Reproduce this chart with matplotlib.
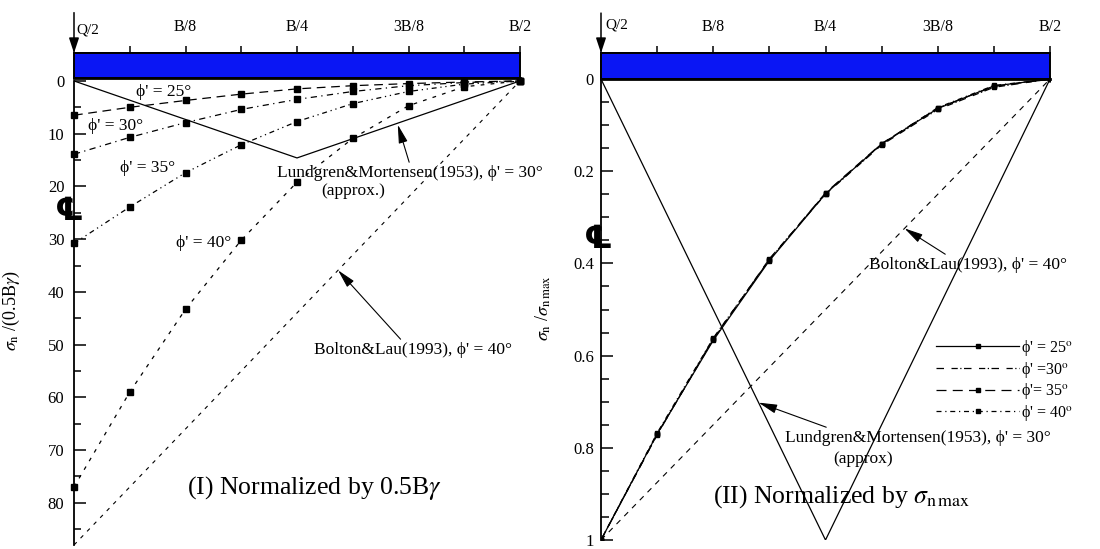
import matplotlib
matplotlib.use("Agg")
import matplotlib.pyplot as plt
from matplotlib.patches import Rectangle
from matplotlib.ticker import FixedLocator, MultipleLocator, FormatStrFormatter

plt.rcParams['font.family'] = ['Liberation Serif', 'DejaVu Serif']
plt.rcParams['mathtext.fontset'] = 'stix'

W, H = 1100, 549

# distance from the footing centre, as a fraction of B
x_dist = [0.0, 0.0625, 0.125, 0.1875, 0.25, 0.3125, 0.375, 0.4375, 0.5]

# (I) sigma_n / (0.5 B gamma)
sig_25 = [6.5, 5.0, 3.7, 2.5, 1.5, 0.9, 0.5, 0.2, 0.0]
sig_30 = [13.9, 10.7, 7.9, 5.4, 3.5, 2.0, 0.9, 0.3, 0.0]
sig_35 = [30.8, 23.9, 17.4, 12.1, 7.7, 4.3, 2.0, 0.6, 0.0]
sig_40 = [77.0, 59.0, 43.3, 30.2, 19.2, 10.9, 4.7, 1.1, 0.0]

# (II) sigma_n / sigma_n max
norm_25 = [1.0, 0.770, 0.567, 0.394, 0.249, 0.141, 0.064, 0.015, 0.0]
norm_30 = [1.0, 0.771, 0.565, 0.390, 0.250, 0.143, 0.066, 0.018, 0.0]
norm_35 = [1.0, 0.772, 0.563, 0.392, 0.247, 0.140, 0.063, 0.016, 0.0]
norm_40 = [1.0, 0.768, 0.562, 0.392, 0.248, 0.141, 0.062, 0.014, 0.0]

# Lundgren & Mortensen (1953) and Bolton & Lau (1993)
lund_x = [0.0, 0.25, 0.5]
lund_I = [0.0, 14.6, 0.0]
lund_II = [0.0, 1.0, 0.0]
bolton_x = [0.0, 0.5]
bolton_I = [88.0, 0.0]
bolton_II = [1.0, 0.0]

phi_names = ["ϕ' = 25°", "ϕ' = 30°", "ϕ' = 35°", "ϕ' = 40°"]
legend_names = ["ϕ' = 25$^{\\rm o}$", "ϕ' =30$^{\\rm o}$", "ϕ'= 35$^{\\rm o}$", "ϕ' = 40$^{\\rm o}$"]
top_ticks = [0, 0.125, 0.25, 0.375, 0.5]
top_labels = ["", "B/8", "B/4", "3B/8", "B/2"]

BLUE = '#0a16f4'


def fp(x, y):
    # pixel position -> figure fraction
    return x / W, 1 - y / H


def setup(ax, ytop, ybot, bar_bot, major, minor, fmt):
    ax.set_xlim(0, 0.5)
    ax.set_ylim(ybot, ytop)
    for s in ('right', 'bottom'):
        ax.spines[s].set_visible(False)
    ax.spines['left'].set_linewidth(1.3)
    ax.spines['top'].set_linewidth(1.3)
    ax.add_patch(Rectangle((0, ytop), 0.5, bar_bot - ytop, facecolor=BLUE,
                           edgecolor='k', lw=1.4, zorder=4, clip_on=False))
    ax.plot([0, 0.5], [bar_bot, bar_bot], color='k', lw=2.0, zorder=5, clip_on=False)
    ax.xaxis.tick_top()
    ax.xaxis.set_major_locator(FixedLocator(top_ticks))
    ax.set_xticklabels(top_labels)
    ax.xaxis.set_minor_locator(MultipleLocator(0.0625))
    ax.tick_params(axis='x', which='both', direction='out', length=5, width=1.1,
                   labelsize=11.5, pad=8)
    ax.yaxis.set_major_locator(major)
    ax.yaxis.set_minor_locator(minor)
    ax.yaxis.set_major_formatter(fmt)
    ax.tick_params(axis='y', which='major', direction='in', length=8.5, width=1.1,
                   labelsize=12, pad=7)
    ax.tick_params(axis='y', which='minor', direction='in', length=5, width=1.1)
    # Q/2 load arrow
    ax.annotate('', xy=(0, 1.0), xycoords='axes fraction', xytext=(0, 1.082),
                arrowprops=dict(arrowstyle='-|>,head_length=0.9,head_width=0.3',
                                color='k', lw=1.1, shrinkA=0, shrinkB=0),
                annotation_clip=False, zorder=6)


fig = plt.figure(figsize=(11, 5.49), dpi=100)

# ---------------- panel (I) ----------------
ax1 = fig.add_axes([74 / W, 4 / H, 446 / W, 492 / H])
setup(ax1, -5.3, 88, -0.6, MultipleLocator(10), MultipleLocator(5),
      FormatStrFormatter('%d'))
ax1.spines['left'].set_bounds(0, 88)

mk = dict(marker='s', markersize=4.5, color='k', lw=0.9, clip_on=False, zorder=3)
ax1.plot(x_dist, sig_25, dashes=(7, 4.5), **mk)
ax1.plot(x_dist, sig_30, dashes=(5, 3.5, 1, 3.5), **mk)
ax1.plot(x_dist, sig_35, dashes=(4, 3, 1, 3, 1, 3), **mk)
ax1.plot(x_dist, sig_40, dashes=(3, 5), **mk)
ax1.plot(lund_x, lund_I, color='k', lw=0.9, zorder=3)
ax1.plot(bolton_x, bolton_I, color='k', lw=0.8, dashes=(3.5, 5), zorder=3)

ax1.set_ylabel(r'$\sigma_{\rm n}$ /(0.5B$\gamma$)', fontsize=13)
ax1.yaxis.set_label_coords((22 - 74) / 446, 1 - (311 - 53) / 492)

lab = dict(fontsize=12.5, ha='center', va='center')
for name, (px, py) in zip(phi_names, [(164, 92), (116, 126), (148, 168), (204, 243)]):
    fig.text(*fp(px, py), name, **lab)

arr = dict(arrowstyle='-|>,head_length=0.9,head_width=0.22', color='k', lw=0.8,
           shrinkA=0, shrinkB=0)
ax1.annotate("Lundgren&Mortensen(1953), ϕ' = 30°", xy=(0.363, 8.3),
             xytext=fp(410, 173), textcoords='figure fraction',
             ha='center', va='center', fontsize=12.5,
             arrowprops=dict(arr, relpos=(0.5, 1.0)))
fig.text(*fp(353, 191), "(approx.)", fontsize=12.5, ha='center', va='center')
ax1.annotate("Bolton&Lau(1993), ϕ' = 40°", xy=(0.296, 35.9),
             xytext=fp(413, 350), textcoords='figure fraction',
             ha='center', va='center', fontsize=12.5,
             arrowprops=dict(arr, relpos=(0.45, 1.0)))
fig.text(*fp(314, 488), "(I) Normalized by 0.5B$\\gamma$", fontsize=18.5,
         ha='center', va='center')

# ---------------- panel (II) ----------------
ax2 = fig.add_axes([601 / W, 9 / H, 449 / W, 487 / H])
setup(ax2, -0.0565, 1.0, 0.0, MultipleLocator(0.2), MultipleLocator(0.05),
      FormatStrFormatter('%g'))
ax2.tick_params(axis='y', which='major', pad=5)
ax2.tick_params(axis='y', which='minor', length=5.5)

mk2 = dict(marker='s', markersize=2.5, color='k', lw=0.9, zorder=3)
l40, = ax2.plot(x_dist, norm_40, dashes=(4, 3, 1, 3), **mk2)
l35, = ax2.plot(x_dist, norm_35, dashes=(8, 5), **mk2)
l30, = ax2.plot(x_dist, norm_30, dashes=(6, 6, 5, 2, 1, 2), **mk2)
l25, = ax2.plot(x_dist, norm_25, **mk2)
ax2.plot(lund_x, lund_II, color='k', lw=0.9, zorder=3)
ax2.plot(bolton_x, bolton_II, color='k', lw=0.8, dashes=(5, 5), zorder=3)

ax2.set_ylabel(r'$\sigma_{\rm n}$ /$\sigma_{\rm n\,max}$', fontsize=13)
ax2.yaxis.set_label_coords((553 - 601) / 449, 1 - (308 - 53) / 487)

leg = ax2.legend([l25, l30, l35, l40], legend_names, frameon=False,
                 loc='upper left', bbox_to_anchor=fp(936, 338),
                 bbox_transform=fig.transFigure, fontsize=11.5,
                 handlelength=5.2, handletextpad=0.15, labelspacing=0.1,
                 borderpad=0, borderaxespad=0, markerscale=1.0)
for h, m in zip(leg.legend_handles, ['s', 'None', 's', 's']):
    h.set_markevery([1])
    h.set_marker(m)

ax2.annotate("Bolton&Lau(1993), ϕ' = 40°", xy=(0.338, 0.324),
             xytext=fp(968, 265), textcoords='figure fraction',
             ha='center', va='center', fontsize=12.5,
             arrowprops=dict(arr, relpos=(0.42, 0.9)))
ax2.annotate("Lundgren&Mortensen(1953), ϕ' = 30°", xy=(0.1755, 0.702),
             xytext=fp(918, 438), textcoords='figure fraction',
             ha='center', va='center', fontsize=12.5,
             arrowprops=dict(arr, relpos=(0.2, 0.9)))
fig.text(*fp(863, 459), "(approx)", fontsize=12.5, ha='center', va='center')
fig.text(*fp(842, 497), "(II) Normalized by $\\sigma_{\\rm n\\,max}$", fontsize=18.5,
         ha='center', va='center')

# centre-line symbols and Q/2 labels
for cx, cy in [(69, 211), (598, 240)]:
    fig.text(*fp(cx, cy), "\u2104", fontsize=23, fontweight='bold',
             family=['DejaVu Serif', 'DejaVu Sans'], ha='center', va='center')
for qx, qy in [(76, 30), (605, 25)]:
    fig.text(*fp(qx, qy), "Q/2", fontsize=11, ha='left', va='center')

fig.savefig("out.png", dpi=100)
